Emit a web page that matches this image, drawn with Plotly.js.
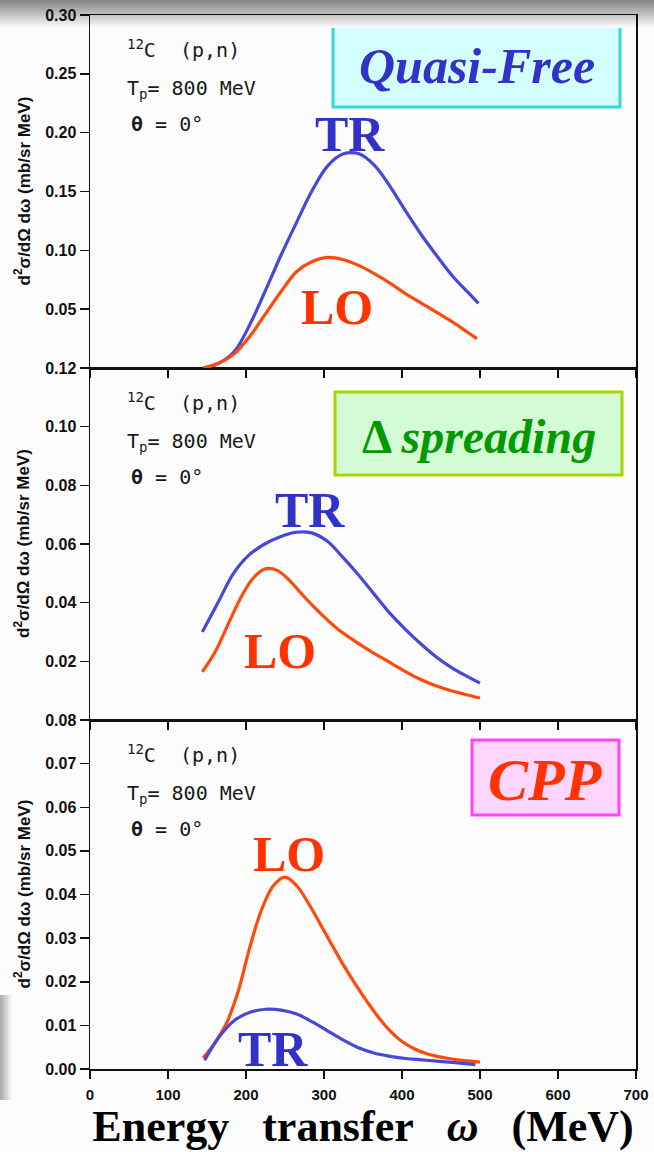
<!DOCTYPE html>
<html>
<head>
<meta charset="utf-8">
<script src="https://cdn.plot.ly/plotly-3.0.1.min.js"></script>
<style>html,body{margin:0;padding:0;background:#fcfcfc;}</style>
</head>
<body>
<div id="chart" style="width:654px;height:1152px;"></div>
<script>
// ---------------- DATA ----------------
// Panel 1: Quasi-Free
const qfOmegaTR = [145, 165, 185, 205, 225, 245, 265, 285, 305, 325, 345, 365, 385, 405, 425, 445, 465, 485, 498];
const qfTR      = [0.000, 0.004, 0.014, 0.037, 0.066, 0.096, 0.124, 0.151, 0.172, 0.182, 0.182, 0.172, 0.154, 0.133, 0.113, 0.095, 0.078, 0.064, 0.055];
const qfOmegaLO = [145, 165, 185, 205, 225, 245, 265, 285, 305, 325, 345, 365, 385, 405, 425, 445, 465, 485, 496];
const qfLO      = [0.000, 0.004, 0.012, 0.027, 0.046, 0.065, 0.082, 0.0905, 0.094, 0.092, 0.087, 0.080, 0.072, 0.063, 0.055, 0.047, 0.039, 0.030, 0.025];

// Panel 2: Delta spreading
const dsOmegaTR = [144, 164, 184, 204, 224, 244, 264, 284, 304, 324, 344, 364, 384, 404, 424, 444, 464, 484, 500];
const dsTR      = [0.030, 0.040, 0.050, 0.0563, 0.060, 0.0625, 0.064, 0.0638, 0.061, 0.0555, 0.0495, 0.043, 0.0365, 0.031, 0.026, 0.0215, 0.0178, 0.0148, 0.0126];
const dsOmegaLO = [144, 160, 176, 192, 208, 224, 240, 256, 272, 288, 304, 320, 340, 360, 380, 400, 420, 440, 460, 480, 500];
const dsLO      = [0.0164, 0.023, 0.032, 0.041, 0.048, 0.0515, 0.0510, 0.0475, 0.0428, 0.0383, 0.0342, 0.0305, 0.0268, 0.0234, 0.0203, 0.0172, 0.0143, 0.0120, 0.0102, 0.0088, 0.0075];

// Panel 3: CPP
const cpOmegaLO = [145, 160, 175, 190, 205, 220, 235, 250, 265, 280, 295, 310, 325, 340, 355, 370, 385, 400, 415, 430, 445, 460, 480, 500];
const cpLO      = [0.0025, 0.006, 0.0105, 0.0178, 0.028, 0.0365, 0.0420, 0.0440, 0.0420, 0.0380, 0.0333, 0.0285, 0.0238, 0.0195, 0.0155, 0.0118, 0.0087, 0.0063, 0.0047, 0.0036, 0.0029, 0.0024, 0.0019, 0.0016];
const cpOmegaTR = [147, 165, 185, 205, 225, 245, 265, 285, 305, 325, 345, 365, 385, 405, 425, 445, 465, 494];
const cpTR      = [0.002, 0.0072, 0.0111, 0.0130, 0.0137, 0.0135, 0.0126, 0.0108, 0.0087, 0.0066, 0.0048, 0.0036, 0.0029, 0.0024, 0.0021, 0.0018, 0.0015, 0.0010];

// Axis ticks
const xTicks   = [0, 100, 200, 300, 400, 500, 600, 700];
const yTicksQF = [0.05, 0.10, 0.15, 0.20, 0.25, 0.30];
const yTicksDS = [0.02, 0.04, 0.06, 0.08, 0.10, 0.12];
const yTicksCP = [0.00, 0.01, 0.02, 0.03, 0.04, 0.05, 0.06, 0.07, 0.08];

// Texts
const panelNames = ["<i>Quasi-Free</i>", "<b>Δ</b> <i>spreading</i>", "<i>CPP</i>"];
const reactionText = "<sup>12</sup>C\u00A0\u00A0(p,n)";
const energyText = "T<sub>p</sub>= 800 MeV";
const angleText = "<b>θ</b> = 0°";
const yTitleText = "d<sup>2</sup>σ/dΩ dω (mb/sr MeV)";
const xTitleText = "Energy\u00A0\u00A0\u00A0transfer\u00A0\u00A0\u00A0<i>ω</i>\u00A0\u00A0\u00A0(MeV)";

// ---------------- LAYOUT HELPERS ----------------
const L = 90, T = 15, W = 546, H = 1054;
const fx = p => (p - L) / W;
const fy = p => (T + H - p) / H;

const BLUE_LINE = '#4848d8';
const ORANGE_LINE = '#ff4a0a';
const BLUE_TXT = '#3232c8';
const ORANGE_TXT = '#ff3300';

function line(x, y, xa, ya, color) {
  return {x: x, y: y, xaxis: xa, yaxis: ya, type: 'scatter', mode: 'lines',
    line: {color: color, width: 3.2, shape: 'spline', smoothing: 1},
    showlegend: false, hoverinfo: 'skip'};
}

const data = [
  line(qfOmegaTR, qfTR, 'x3', 'y', BLUE_LINE),
  line(qfOmegaLO, qfLO, 'x3', 'y', ORANGE_LINE),
  line(dsOmegaTR, dsTR, 'x2', 'y2', BLUE_LINE),
  line(dsOmegaLO, dsLO, 'x2', 'y2', ORANGE_LINE),
  line(cpOmegaLO, cpLO, 'x', 'y3', ORANGE_LINE),
  line(cpOmegaTR, cpTR, 'x', 'y3', BLUE_LINE)
];

const tickFont = {family: 'Liberation Sans, Arial, sans-serif', size: 16, color: '#111', weight: 'bold'};
const xTickFont = {family: 'Liberation Sans, Arial, sans-serif', size: 15, color: '#111', weight: 'bold'};

function xAxis(extra) {
  return Object.assign({
    range: [0, 700], tickvals: xTicks, ticks: 'outside', ticklen: 8, tickwidth: 1.5,
    tickcolor: '#111', showline: true, linecolor: '#111', linewidth: 1.5, mirror: true,
    showgrid: false, zeroline: false, tickfont: xTickFont, fixedrange: true
  }, extra);
}
function yAxis(range, vals, domain, anchor) {
  return {
    range: range, tickvals: vals, ticktext: vals.map(v => v.toFixed(2)), domain: domain, anchor: anchor,
    ticks: 'outside', ticklen: 9, tickwidth: 1.5, tickcolor: '#111',
    showline: true, linecolor: '#111', linewidth: 1.5, mirror: true,
    showgrid: false, zeroline: false, tickfont: tickFont, fixedrange: true
  };
}

const dTop = [fy(368), 1];
const dMid = [fy(720), fy(368)];
const dBot = [0, fy(720)];

const annotations = [];
const shapes = [];

const monoFont = {family: 'DejaVu Sans Mono, monospace', size: 20, color: '#1a1a1a'};
const panelTops = [15, 368, 720];
const panelBots = [368, 720, 1069];
panelTops.forEach((top, i) => {
  annotations.push({xref: 'paper', yref: 'paper', x: fx(125), y: fy(top + 34), xanchor: 'left', yanchor: 'middle',
    text: reactionText, showarrow: false, font: monoFont});
  annotations.push({xref: 'paper', yref: 'paper', x: fx(125), y: fy(top + 74), xanchor: 'left', yanchor: 'middle',
    text: energyText, showarrow: false, font: monoFont});
  annotations.push({xref: 'paper', yref: 'paper', x: fx(129), y: fy(top + 109), xanchor: 'left', yanchor: 'middle',
    text: angleText, showarrow: false, font: monoFont});
  annotations.push({xref: 'paper', yref: 'paper', x: fx(22), y: fy((top + panelBots[i]) / 2), xanchor: 'center', yanchor: 'middle',
    textangle: -90, text: yTitleText, showarrow: false,
    font: {family: 'Liberation Sans, Arial, sans-serif', size: 17, color: '#111', weight: 'bold'}});
});

// Curve labels
const curveLabels = [
  {t: 'TR', x: 350, y: 132, c: BLUE_TXT},
  {t: 'LO', x: 337, y: 305, c: ORANGE_TXT},
  {t: 'TR', x: 310, y: 508, c: BLUE_TXT},
  {t: 'LO', x: 280, y: 649, c: ORANGE_TXT},
  {t: 'LO', x: 289, y: 852, c: ORANGE_TXT},
  {t: 'TR', x: 273, y: 1047, c: BLUE_TXT}
];
curveLabels.forEach(l => {
  annotations.push({xref: 'paper', yref: 'paper', x: fx(l.x), y: fy(l.y + 2), xanchor: 'center', yanchor: 'middle',
    text: l.t, showarrow: false, font: {family: 'Liberation Serif, Times New Roman, serif', size: 50, color: l.c, weight: 'bold'}});
});

// Panel name boxes
const boxes = [
  {x0: 333, x1: 620, y0: 22, y1: 107, fill: '#d4ffff', border: '#3cd4d4', color: BLUE_TXT, size: 50, ty: 66},
  {x0: 335, x1: 622, y0: 392, y1: 475, fill: '#d4fcd4', border: '#aad400', color: '#009900', size: 48, ty: 436},
  {x0: 472, x1: 619, y0: 740, y1: 815, fill: '#ffd6ff', border: '#ff44ff', color: ORANGE_TXT, size: 60, ty: 780}
];
boxes.forEach((b, i) => {
  shapes.push({type: 'rect', xref: 'paper', yref: 'paper', x0: fx(b.x0), x1: fx(b.x1), y0: fy(b.y1), y1: fy(b.y0),
    fillcolor: b.fill, line: {color: b.border, width: 3}, layer: 'below'});
  annotations.push({xref: 'paper', yref: 'paper', x: fx((b.x0 + b.x1) / 2), y: fy(b.ty), xanchor: 'center', yanchor: 'middle',
    text: panelNames[i], showarrow: false,
    font: {family: 'Liberation Serif, Times New Roman, serif', size: b.size, color: b.color, weight: 'bold'}});
});

// top shading gradient
for (let k = 0; k < 14; k++) {
  const g = Math.round(135 + (250 - 135) * k / 13);
  shapes.push({type: 'rect', xref: 'paper', yref: 'paper', x0: fx(0), x1: fx(654), y0: fy(2 * k + 2), y1: fy(2 * k),
    fillcolor: `rgb(${g},${g},${g})`, line: {width: 0}, layer: 'below'});
}
// left-bottom shading
for (let k = 0; k < 6; k++) {
  const g = Math.round(175 + (245 - 175) * k / 5);
  shapes.push({type: 'rect', xref: 'paper', yref: 'paper', x0: fx(2 * k), x1: fx(2 * k + 2), y0: fy(1100), y1: fy(995),
    fillcolor: `rgb(${g},${g},${g})`, line: {width: 0}, layer: 'below'});
}

const layout = {
  width: 654, height: 1152,
  margin: {l: L, r: 654 - L - W, t: T, b: 1152 - T - H},
  paper_bgcolor: '#fcfcfc', plot_bgcolor: 'rgba(0,0,0,0)',
  showlegend: false,
  xaxis: xAxis({anchor: 'y3', ticklabelstandoff: 3,
    title: {text: xTitleText, standoff: 8, font: {family: 'Liberation Serif, Times New Roman, serif', size: 44, color: '#000', weight: 'bold'}}}),
  xaxis2: xAxis({anchor: 'y2', matches: 'x', showticklabels: false}),
  xaxis3: xAxis({anchor: 'y', matches: 'x', showticklabels: false}),
  yaxis: yAxis([0, 0.30], yTicksQF, dTop, 'x3'),
  yaxis2: yAxis([0, 0.12], yTicksDS, dMid, 'x2'),
  yaxis3: yAxis([0, 0.08], yTicksCP, dBot, 'x'),
  annotations: annotations,
  shapes: shapes
};

Plotly.newPlot('chart', data, layout, {staticPlot: true, displayModeBar: false});
</script>
</body>
</html>
